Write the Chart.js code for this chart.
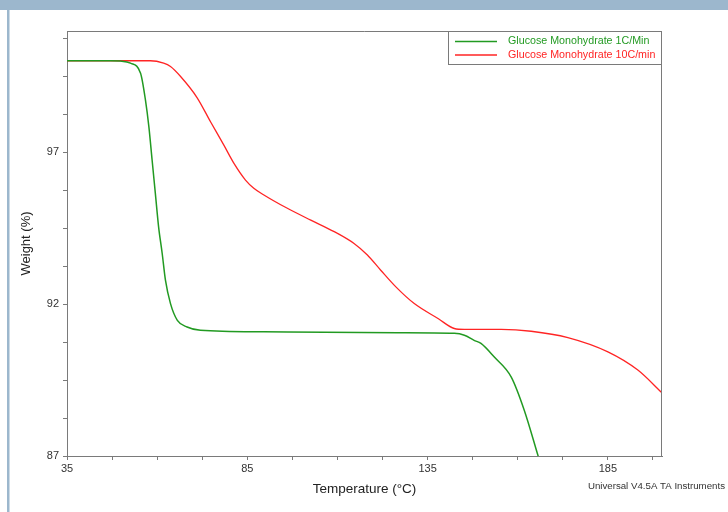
<!DOCTYPE html>
<html><head><meta charset="utf-8">
<script src="https://cdn.jsdelivr.net/npm/chart.js@4/dist/chart.umd.min.js"></script>
<style>
html,body{margin:0;padding:0;background:#fff;}
canvas{display:block;}
</style></head><body>
<canvas id="c" width="728" height="512"></canvas>
<script>
// ---- data ----
const seriesNames = ['Glucose Monohydrate 1C/Min', 'Glucose Monohydrate 10C/min'];
const greenTemp = [35, 47.0, 49.8, 52.6, 55.4, 56.75, 57.7, 58.6, 59.5, 60.4, 61.4, 62.3, 63.7, 65.6, 68.3, 72.0, 89.6, 126.7, 142.4, 145.2, 147.9, 149.8, 153.5, 158.2, 161.8, 165.7];
const greenWeight = [100.02, 100.02, 100.01, 99.94, 99.61, 98.73, 97.85, 96.75, 95.65, 94.55, 93.67, 92.79, 92.02, 91.47, 91.25, 91.14, 91.09, 91.06, 91.04, 90.98, 90.81, 90.71, 90.26, 89.60, 88.51, 86.98];
const redTemp = [35, 58.1, 61.8, 63.7, 66.5, 71.1, 74.8, 78.5, 81.3, 84.5, 86.8, 89.6, 96.1, 102.6, 109.1, 114.6, 118.3, 122.0, 126.2, 131.3, 138.0, 142.4, 145.2, 155.4, 163.7, 173.9, 185.0, 193.3, 200];
const redWeight = [100.02, 100.02, 99.94, 99.83, 99.50, 98.80, 98.01, 97.24, 96.64, 96.09, 95.82, 95.60, 95.16, 94.77, 94.39, 94.00, 93.62, 93.12, 92.57, 92.02, 91.52, 91.20, 91.17, 91.17, 91.11, 90.90, 90.43, 89.83, 89.08];
const xTickLabels = [35, 85, 135, 185];
const yTickLabels = [87, 92, 97];
const xTitle = 'Temperature (°C)';
const yTitle = 'Weight (%)';
const watermark = 'Universal V4.5A TA Instruments';

// ---- styling ----
const GREEN = '#229a22';
const RED = '#ff2424';
const AXIS = '#7a7a7a';
const FONT = '"Liberation Sans", Arial, sans-serif';
Chart.defaults.font.family = FONT;

const xMinor = []; for (let v = 35; v <= 198; v += 12.5) xMinor.push(v);
const yMinor = []; for (let v = 87; v <= 100.8; v += 1.25) yMinor.push(Math.round(v * 100) / 100);

const toPts = (xs, ys) => xs.map((x, i) => ({x, y: ys[i]}));

const deco = {
  id: 'deco',
  beforeDraw(chart) {
    const ctx = chart.ctx;
    ctx.save();
    ctx.fillStyle = '#fff';
    ctx.fillRect(0, 0, chart.width, chart.height);
    ctx.fillStyle = '#9cb7cd';
    ctx.fillRect(0, 0, chart.width, 10);
    ctx.fillRect(7, 10, 2.5, chart.height - 10);
    ctx.restore();
  },
  afterDraw(chart) {
    const ctx = chart.ctx;
    const a = chart.chartArea;
    ctx.save();
    // frame top/right
    ctx.strokeStyle = AXIS;
    ctx.lineWidth = 1;
    ctx.beginPath();
    ctx.moveTo(a.left, a.top + 0.5);
    ctx.lineTo(a.right - 0.5, a.top + 0.5);
    ctx.lineTo(a.right - 0.5, a.bottom);
    ctx.stroke();
    // legend box
    const lx = 448.5, ly = a.top + 0.5, lw = a.right - 0.5 - lx, lh = 33;
    ctx.fillStyle = '#fff';
    ctx.fillRect(lx, ly, lw, lh);
    ctx.strokeRect(lx, ly, lw, lh);
    const ds = chart.data.datasets;
    ds.forEach((d, i) => {
      const y = ly + 10 + i * 13.5;
      ctx.strokeStyle = d.borderColor;
      ctx.lineWidth = 1.3;
      ctx.beginPath();
      ctx.moveTo(455, y);
      ctx.lineTo(497, y);
      ctx.stroke();
      ctx.fillStyle = d.borderColor;
      ctx.font = '10.7px ' + FONT;
      ctx.textBaseline = 'middle';
      ctx.textAlign = 'left';
      ctx.fillText(d.label, 508, y);
    });
    // watermark
    ctx.fillStyle = '#333';
    ctx.font = '9.7px ' + FONT;
    ctx.textAlign = 'right';
    ctx.textBaseline = 'middle';
    ctx.fillText(watermark, 725, 486);
    ctx.restore();
  }
};

new Chart(document.getElementById('c'), {
  type: 'line',
  data: {
    datasets: [
      {label: seriesNames[0], data: toPts(greenTemp, greenWeight), borderColor: GREEN, borderWidth: 1.5, pointRadius: 0, cubicInterpolationMode: 'monotone', fill: false},
      {label: seriesNames[1], data: toPts(redTemp, redWeight), borderColor: RED, borderWidth: 1.3, pointRadius: 0, cubicInterpolationMode: 'monotone', fill: false}
    ]
  },
  options: {
    responsive: false,
    devicePixelRatio: 1,
    animation: false,
    layout: {padding: {left: 0, top: 31, right: 66, bottom: 0}},
    plugins: {legend: {display: false}, tooltip: {enabled: false}},
    scales: {
      x: {
        type: 'linear', min: 35, max: 200,
        afterFit(s) { s.height = 56; },
        afterBuildTicks(s) { s.ticks = xMinor.map(v => ({value: v})); },
        grid: {display: true, drawOnChartArea: false, drawTicks: true, tickLength: 4, color: AXIS},
        border: {display: true, color: AXIS, width: 1},
        ticks: {autoSkip: false, maxRotation: 0, padding: 2, color: '#333', font: {size: 11},
          callback: v => xTickLabels.includes(v) ? String(v) : ''},
        title: {display: true, text: xTitle, color: '#222', font: {size: 13.5}, padding: {top: 0, bottom: 15}}
      },
      y: {
        type: 'linear', min: 87, max: 101,
        afterFit(s) { s.width = 67; },
        afterBuildTicks(s) { s.ticks = yMinor.map(v => ({value: v})); },
        grid: {display: true, drawOnChartArea: false, drawTicks: true, tickLength: 4, color: AXIS},
        border: {display: true, color: AXIS, width: 1},
        ticks: {autoSkip: false, padding: 4, color: '#333', font: {size: 11},
          callback: v => yTickLabels.includes(v) ? String(v) : ''},
        title: {display: true, text: yTitle, color: '#222', font: {size: 13}, padding: {top: 19, bottom: 0}}
      }
    }
  },
  plugins: [deco]
});
</script>
</body></html>
